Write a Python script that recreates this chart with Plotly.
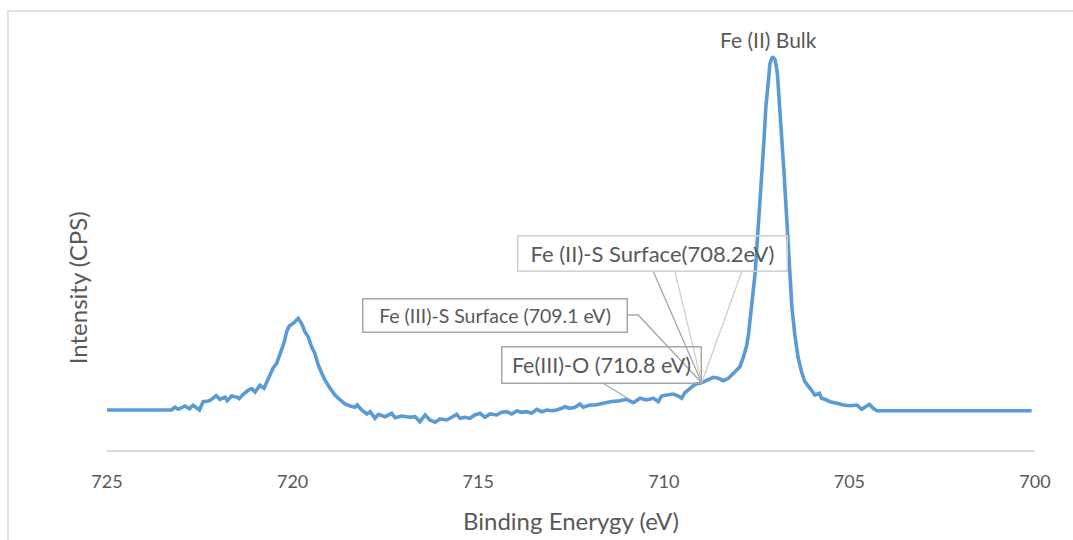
import plotly.graph_objects as go

# Binding energy (eV)
energy = [725.00, 723.26, 723.17, 723.08, 722.90, 722.78, 722.68, 722.51, 722.41, 722.27,
          722.18, 722.06, 721.96, 721.82, 721.76, 721.64, 721.49, 721.44, 721.33, 721.19,
          721.10, 721.01, 720.88, 720.77, 720.61, 720.52, 720.43, 720.34, 720.23, 720.16,
          720.09, 719.96, 719.85, 719.75, 719.67, 719.58, 719.49, 719.40, 719.31, 719.22,
          719.13, 718.99, 718.86, 718.72, 718.59, 718.45, 718.32, 718.26, 718.14, 718.00,
          717.91, 717.78, 717.69, 717.51, 717.33, 717.24, 717.06, 716.84, 716.70, 716.57,
          716.43, 716.30, 716.16, 716.03, 715.85, 715.71, 715.58, 715.49, 715.36, 715.22,
          715.09, 714.95, 714.82, 714.68, 714.50, 714.37, 714.23, 714.10, 713.96, 713.83,
          713.69, 713.56, 713.42, 713.29, 713.15, 713.02, 712.89, 712.75, 712.66, 712.53,
          712.39, 712.26, 712.17, 711.99, 711.85, 711.72, 711.45, 711.18, 711.00, 710.82,
          710.64, 710.46, 710.28, 710.15, 710.06, 709.92, 709.74, 709.61, 709.52, 709.43,
          709.29, 709.16, 708.98, 708.84, 708.67, 708.53, 708.40, 708.26, 708.13, 708.04,
          707.95, 707.86, 707.77, 707.72, 707.63, 707.54, 707.48, 707.43, 707.36, 707.30,
          707.25, 707.18, 707.14, 707.07, 707.00, 706.94, 706.89, 706.82, 706.76, 706.71,
          706.67, 706.62, 706.55, 706.47, 706.38, 706.29, 706.20, 706.06, 705.93, 705.81,
          705.75, 705.66, 705.52, 705.34, 705.16, 704.98, 704.80, 704.67, 704.58, 704.46,
          704.36, 704.26, 700.09]

# Intensity (CPS, arbitrary scale)
intensity = [4000, 4000, 4270, 4070, 4400, 4130, 4470, 4000, 4830, 4900,
             5070, 5430, 5070, 5270, 4930, 5400, 5270, 5130, 5570, 6000,
             6130, 5800, 6470, 6170, 7500, 8230, 8670, 9670, 10730, 11830,
             12400, 12730, 13170, 12600, 11830, 11330, 10330, 9670, 8500, 7730,
             7000, 6170, 5500, 5000, 4600, 4400, 4270, 4500, 4000, 3600,
             3830, 3170, 3570, 3330, 3670, 3230, 3400, 3270, 3330, 2830,
             3500, 3000, 2770, 3100, 3000, 3270, 3570, 3170, 3270, 3170,
             3500, 3670, 3270, 3600, 3500, 3770, 3830, 3600, 3900, 3770,
             3830, 3670, 4070, 3830, 4000, 3930, 4000, 4170, 4330, 4170,
             4270, 4600, 4270, 4500, 4500, 4600, 4830, 4930, 5070, 4730,
             5170, 5000, 5170, 4830, 5400, 5500, 5600, 5400, 5170, 5730,
             6170, 6570, 6730, 7000, 7270, 7170, 6930, 7170, 7670, 8070,
             8330, 9250, 10400, 11500, 14330, 17670, 21000, 24330, 27670, 31000,
             34330, 37000, 38670, 39330, 39000, 37670, 34330, 31000, 27670, 24330,
             21000, 17670, 14330, 11500, 9200, 7830, 6830, 6170, 5500, 5670,
             5170, 5070, 4830, 4670, 4500, 4430, 4500, 4070, 4330, 4570,
             4170, 3930, 3930]

x_ticks = [725, 720, 715, 710, 705, 700]

peak_label = "Fe (II) Bulk"
box_labels = ["Fe (II)-S Surface(708.2eV)", "Fe (III)-S Surface (709.1 eV)", "Fe(III)-O (710.8 eV)"]

FONT = "Lato"
TXT = "#595959"
BLUE = "#5B9BD5"

fig = go.Figure()
fig.add_trace(go.Scatter(x=energy, y=intensity, mode="lines",
                         line=dict(color=BLUE, width=3.6), hoverinfo="skip",
                         showlegend=False))

# peak label
ipk = intensity.index(max(intensity))
annotations = [
    dict(x=energy[ipk], y=intensity[ipk], text=peak_label, showarrow=False,
         xanchor="center", yanchor="bottom", yshift=3, xshift=-4,
         font=dict(family=FONT, size=21, color=TXT)),
    # boxed callouts
    dict(x=710.30, y=19700, text=box_labels[0], showarrow=False, xanchor="center", yanchor="middle",
         width=268, height=34, borderpad=0, borderwidth=1.5, bordercolor="#D0D0D0",
         bgcolor="rgba(255,255,255,0)", font=dict(family=FONT, size=22, color=TXT)),
    dict(x=714.55, y=13500, text=box_labels[1], showarrow=False, xanchor="center", yanchor="middle",
         width=263, height=32, borderpad=0, borderwidth=1.5, bordercolor="#A6A6A6",
         font=dict(family=FONT, size=19.5, color=TXT)),
    dict(x=711.67, y=8530, text=box_labels[2], showarrow=False, xanchor="center", yanchor="middle",
         width=198, height=35, borderpad=0, borderwidth=1.5, bordercolor="#A6A6A6",
         font=dict(family=FONT, size=21.5, color=TXT)),
    # axis titles
    dict(xref="paper", yref="paper", x=0.5, y=-0.163, text="Binding Enerygy (eV)", showarrow=False,
         xanchor="center", yanchor="middle", font=dict(family=FONT, size=24, color=TXT)),
    dict(xref="paper", yref="paper", x=-0.0323, y=0.372, text="Intensity (CPS)", showarrow=False,
         textangle=-90, xanchor="center", yanchor="middle", font=dict(family=FONT, size=24, color=TXT)),
]

P = (708.98, 6730)
shapes = [
    dict(type="line", x0=710.28, y0=17830, x1=P[0], y1=P[1], line=dict(color="#A6A6A6", width=1.3)),
    dict(type="line", x0=709.70, y0=17830, x1=P[0], y1=P[1], line=dict(color="#D0D0D0", width=1.3)),
    dict(type="line", x0=707.90, y0=17830, x1=P[0], y1=P[1], line=dict(color="#D0D0D0", width=1.3)),
    dict(type="path", path=f"M 710.98 13500 L 710.69 13500 L {P[0]} {P[1]}",
         line=dict(color="#A6A6A6", width=1.3)),
    dict(type="line", x0=711.63, y0=6670, x1=710.91, y1=5000, line=dict(color="#A6A6A6", width=1.3)),
    # chart border (left and top)
    dict(type="path", xref="paper", yref="paper",
         path="M -0.1067 -0.21 L -0.1067 1.0092 L 1.05 1.0092",
         line=dict(color="#D9D9D9", width=1.5)),
]

fig.update_layout(
    width=1073, height=540, autosize=False,
    margin=dict(l=107, r=38, t=15, b=90),
    paper_bgcolor="white", plot_bgcolor="white",
    annotations=annotations, shapes=shapes,
    xaxis=dict(range=[725, 700], tickmode="array", tickvals=x_ticks,
               ticktext=[str(t) for t in x_ticks], showgrid=False, zeroline=False,
               showline=True, linecolor="#D9D9D9", linewidth=1.8, ticks="",
               ticklabelstandoff=14,
               tickfont=dict(family=FONT, size=18, color=TXT)),
    yaxis=dict(range=[0, 43500], showgrid=False, zeroline=False, showline=False,
               showticklabels=False, ticks=""),
)

fig.write_html("out.html", config={"displayModeBar": False},
               post_script="document.body.style.margin='0';")
